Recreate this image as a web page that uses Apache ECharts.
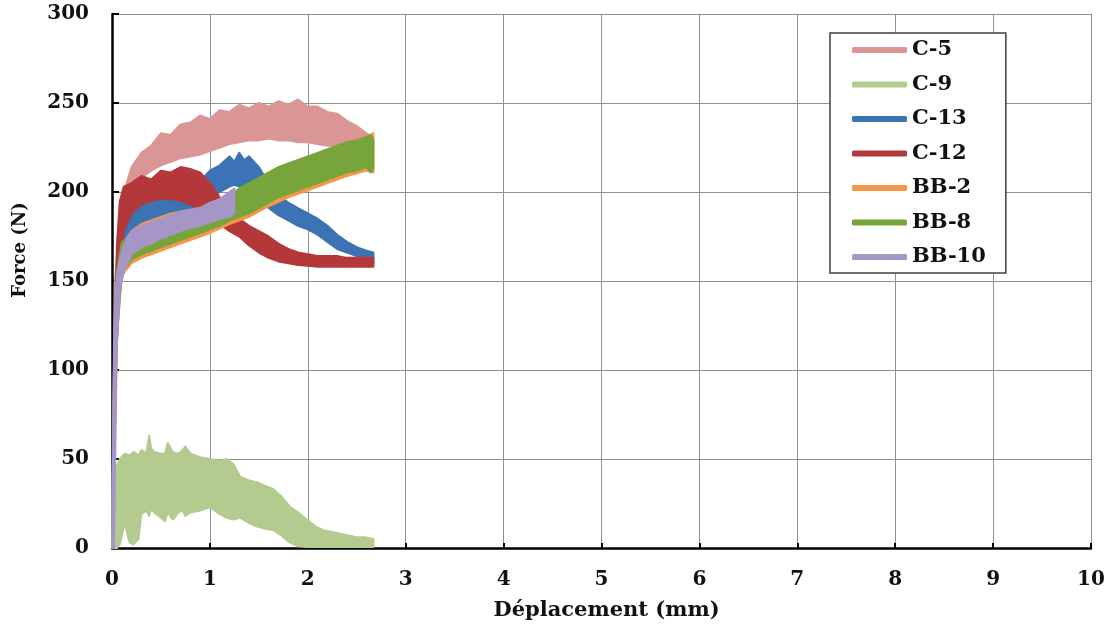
<!DOCTYPE html>
<html>
<head>
<meta charset="utf-8">
<script src="https://cdn.jsdelivr.net/npm/echarts@6/dist/echarts.min.js"></script>
<style>
    html, body { margin: 0; padding: 0; background: #fff; }
    #chart1 { width: 1111px; height: 631px; }
</style>
</head>
<body>
<div id="chart1"></div>
<script>
// 曲线 数据: 每条带状曲线用上沿 / 下沿表示
const c5X  = [0, 0.03, 0.08, 0.15, 0.2, 0.3, 0.4, 0.5, 0.6, 0.7, 0.8, 0.9, 1.0, 1.1, 1.2, 1.3, 1.4, 1.5, 1.6, 1.7, 1.8, 1.9, 2.0, 2.1, 2.2, 2.3, 2.4, 2.5, 2.6, 2.67]
const c5Hi = [0, 150, 185, 205, 214, 222, 226, 233, 232, 238, 239, 243, 241, 246, 245, 249, 247, 250, 248, 251, 249, 252, 248, 248, 245, 244, 240, 237, 233, 230]
const c5Lo = [0, 100, 160, 195, 202, 208, 212, 215, 217, 219, 220, 221, 223, 225, 227, 228, 229, 229, 230, 229, 229, 228, 228, 227, 226, 226, 227, 228, 228, 228]

const c9X  = [0, 0.02, 0.05, 0.08, 0.13, 0.18, 0.22, 0.27, 0.3, 0.35, 0.38, 0.4, 0.43, 0.5, 0.54, 0.57, 0.62, 0.68, 0.72, 0.75, 0.8, 0.9, 1.0, 1.1, 1.17, 1.24, 1.31, 1.4, 1.48, 1.56, 1.65, 1.73, 1.82, 1.9, 1.99, 2.08, 2.16, 2.25, 2.33, 2.42, 2.5, 2.58, 2.67]
const c9Hi = [0, 5, 46, 50, 53, 52, 54, 52, 55, 53, 63, 56, 54, 53, 53, 59, 54, 53, 55, 57, 53, 51, 50, 49, 50, 47, 40, 38, 37, 35, 33, 29, 23, 20, 16, 12, 10, 9, 8, 7, 6, 6, 5]
const c9Lo = [0, 0, 0, 2, 14, 3, 2, 5, 19, 21, 18, 22, 20, 17, 15, 20, 16, 20, 21, 18, 20, 21, 23, 19, 17, 16, 17, 14, 12, 11, 10, 7, 3, 1, 0.5, 0.5, 0.5, 0.5, 0.5, 0.5, 0.5, 0.5, 0.5]

const c13X  = [0, 0.03, 0.08, 0.15, 0.2, 0.3, 0.4, 0.5, 0.6, 0.7, 0.8, 0.9, 1.0, 1.1, 1.2, 1.25, 1.3, 1.35, 1.4, 1.5, 1.6, 1.7, 1.8, 1.9, 2.0, 2.1, 2.2, 2.3, 2.4, 2.5, 2.6, 2.67]
const c13Hi = [0, 120, 165, 182, 188, 193, 195, 196, 197, 198, 201, 206, 212, 215, 220, 217, 222, 218, 220, 214, 205, 198, 194, 191, 188, 185, 181, 176, 172, 169, 167, 166]
const c13Lo = [0, 90, 150, 168, 175, 180, 182, 184, 185, 186, 188, 192, 196, 200, 203, 204, 203, 203, 201, 197, 191, 187, 184, 181, 179, 176, 172, 168, 166, 164, 162, 160]

const c12X  = [0, 0.02, 0.05, 0.08, 0.12, 0.2, 0.3, 0.4, 0.5, 0.6, 0.7, 0.8, 0.9, 1.0, 1.1, 1.2, 1.3, 1.4, 1.5, 1.6, 1.7, 1.8, 1.9, 2.0, 2.1, 2.2, 2.3, 2.4, 2.5, 2.6, 2.67]
const c12Hi = [0, 100, 170, 195, 203, 205, 209, 207, 212, 211, 214, 213, 211, 205, 197, 189, 185, 181, 178, 175, 171, 168, 166, 165, 164, 164, 164, 163, 163, 163, 163]
const c12Lo = [0, 60, 140, 165, 178, 188, 193, 195, 196, 196, 195, 193, 190, 186, 182, 178, 175, 170, 166, 163, 161, 160, 159, 158.5, 158, 158, 158, 158, 158, 158, 158]

const bb2X  = [0, 0.02, 0.05, 0.1, 0.2, 0.3, 0.4, 0.6, 0.8, 1.0, 1.2, 1.4, 1.6, 1.8, 2.0, 2.2, 2.4, 2.6, 2.67]
const bb2Hi = [0, 90, 150, 170, 178, 182, 184, 188, 190, 192, 197, 203, 209, 214, 219, 223, 227, 231, 233]
const bb2Lo = [0, 45, 118, 153, 160, 163, 165, 169, 173, 177, 182, 186, 192, 197, 201, 205, 209, 212, 211]

const bb8X  = [0, 0.02, 0.05, 0.1, 0.2, 0.3, 0.4, 0.5, 0.6, 0.7, 0.8, 0.9, 1.0, 1.1, 1.2, 1.3, 1.4, 1.5, 1.6, 1.7, 1.8, 1.9, 2.0, 2.1, 2.2, 2.3, 2.4, 2.5, 2.6, 2.64, 2.67]
const bb8Hi = [0, 100, 155, 172, 175, 178, 180, 182, 184, 186, 188, 190, 192, 195, 198, 202, 205, 208, 211, 214, 216, 218, 220, 222, 224, 226, 228, 229, 231, 232, 229]
const bb8Lo = [0, 40, 120, 155, 162, 165, 167, 169, 171, 173, 175, 177, 179, 181, 184, 186, 188, 191, 194, 197, 199, 201, 203, 205, 207, 209, 211, 212, 214, 211, 213]

const bb10X  = [0, 0.01, 0.02, 0.03, 0.05, 0.08, 0.12, 0.2, 0.3, 0.4, 0.5, 0.6, 0.7, 0.8, 0.9, 1.0, 1.1, 1.2, 1.25]
const bb10Hi = [0, 60, 115, 138, 153, 162, 170, 178, 181, 183, 185, 187, 189, 190, 191, 194, 196, 200, 202]
const bb10Lo = [0, 0, 0, 40, 115, 145, 155, 165, 169, 171, 174, 176, 178, 180, 181, 183, 185, 186, 188]

const seriesNames = ['C-5', 'C-9', 'C-13', 'C-12', 'BB-2', 'BB-8', 'BB-10']
const seriesColors = ['#D99694', '#B3CB8E', '#3C73B4', '#B4383A', '#F79646', '#77A43B', '#A696C8']
const bandX  = [c5X, c9X, c13X, c12X, bb2X, bb8X, bb10X]
const bandHi = [c5Hi, c9Hi, c13Hi, c12Hi, bb2Hi, bb8Hi, bb10Hi]
const bandLo = [c5Lo, c9Lo, c13Lo, c12Lo, bb2Lo, bb8Lo, bb10Lo]

const xTicks = { min: 0, max: 10, interval: 1 }
const yTicks = { min: 0, max: 300, interval: 50 }

const serifFont = 'DejaVu Serif'

// 上沿 + 反向下沿 => 多边形
function bandPoints (xs, hi, lo) {
    let pts = []
    for (let i = 0; i < xs.length; i++) {
        pts.push([xs[i], hi[i]])
    }
    for (let i = xs.length - 1; i >= 0; i--) {
        pts.push([xs[i], lo[i]])
    }
    return pts
}

let chart1 = echarts.init(document.getElementById('chart1'))

let series = seriesNames.map(function (name, k) {
    const pts = bandPoints(bandX[k], bandHi[k], bandLo[k])
    const color = seriesColors[k]
    return {
        name: name,
        type: 'custom',
        z: 2 + k,
        itemStyle: { color: color },
        data: pts,
        encode: { x: 0, y: 1 },
        renderItem: function (params, api) {
            if (params.dataIndex !== 0) {
                return null
            }
            let poly = pts.map(function (p) { return api.coord(p) })
            return {
                type: 'polygon',
                shape: { points: poly },
                style: {
                    fill: color,
                    stroke: color,
                    lineWidth: 2,
                    lineJoin: 'round'
                }
            }
        }
    }
})

let axisFont = {
    fontFamily: serifFont,
    fontWeight: 'bold',
    fontSize: 20,
    color: '#111'
}

let option = {
    backgroundColor: '#fff',
    animation: false,
    grid: {
        left: 112,
        right: 20,
        top: 14,
        bottom: 83,
        containLabel: false
    },
    legend: {
        orient: 'vertical',
        left: 830,
        top: 33,
        padding: [5, 20, 4, 22],
        itemWidth: 55,
        itemHeight: 6,
        itemGap: 10.5,
        backgroundColor: '#fff',
        borderColor: '#404040',
        borderWidth: 1.5,
        selectedMode: false,
        textStyle: {
            fontFamily: serifFont,
            fontWeight: 'bold',
            fontSize: 21,
            lineHeight: 24,
            color: '#111'
        },
        data: seriesNames.map(function (n, k) {
            return { name: n, icon: 'roundRect', itemStyle: { color: seriesColors[k] } }
        })
    },
    xAxis: {
        type: 'value',
        min: xTicks.min,
        max: xTicks.max,
        interval: xTicks.interval,
        name: 'Déplacement (mm)',
        nameLocation: 'middle',
        nameGap: 52,
        nameTextStyle: {
            fontFamily: serifFont,
            fontWeight: 'bold',
            fontSize: 21,
            color: '#111',
            padding: [0, 0, 0, 10]
        },
        axisLine: { show: true, onZero: false, lineStyle: { color: '#000', width: 2.5 } },
        axisTick: { show: true, inside: true, length: 5, lineStyle: { color: '#000', width: 2 } },
        axisLabel: Object.assign({ margin: 22 }, axisFont),
        splitLine: { show: true, lineStyle: { color: '#8f8f8f', width: 1 } }
    },
    yAxis: {
        type: 'value',
        min: yTicks.min,
        max: yTicks.max,
        interval: yTicks.interval,
        axisLine: { show: true, onZero: false, lineStyle: { color: '#000', width: 2.5 } },
        axisTick: { show: true, inside: true, length: 7, lineStyle: { color: '#000', width: 2 } },
        axisLabel: Object.assign({ margin: 23 }, axisFont),
        splitLine: { show: true, lineStyle: { color: '#8f8f8f', width: 1 } }
    },
    graphic: [
        {
            type: 'text',
            x: 20,
            y: 250,
            rotation: Math.PI / 2,
            style: {
                text: 'Force (N)',
                fill: '#111',
                fontFamily: serifFont,
                fontWeight: 'bold',
                fontSize: 18,
                align: 'center',
                verticalAlign: 'middle'
            }
        }
    ],
    series: series
}

chart1.setOption(option)
</script>
</body>
</html>
